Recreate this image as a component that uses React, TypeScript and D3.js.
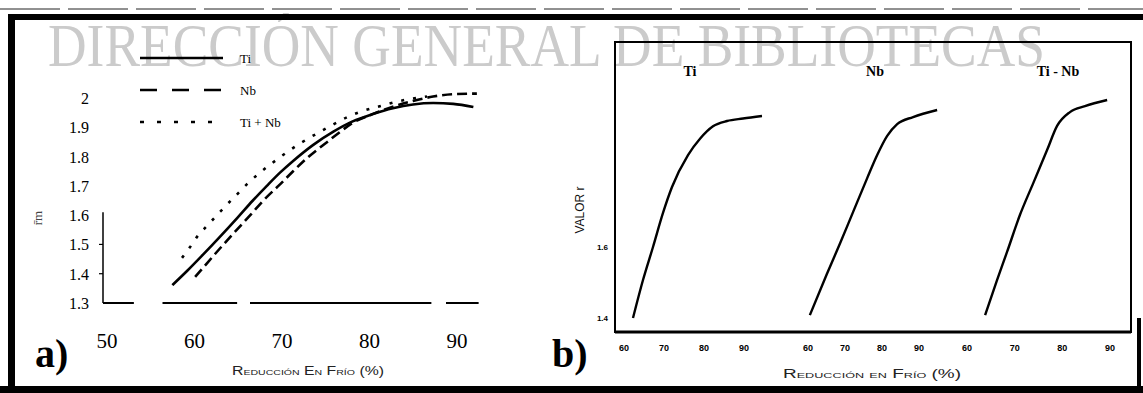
import * as d3 from "d3";

// panel a) — r̄ against cold reduction (%), three steels
const aSeries = ["Ti", "Nb", "Ti + Nb"];
const aTiX = [57.7, 59.4, 61.2, 63.1, 65.1, 66.9, 68.5, 70.0, 71.5, 73.8, 76.1, 78.3, 80.6, 82.9, 85.2, 87.5, 89.8, 92.1];
const aTiR = [1.361, 1.41, 1.465, 1.525, 1.59, 1.65, 1.7, 1.745, 1.785, 1.84, 1.885, 1.92, 1.945, 1.965, 1.978, 1.983, 1.98, 1.969];
const aNbX = [60.3, 61.2, 62.8, 64.6, 66.6, 68.1, 70.0, 71.5, 73.1, 75.4, 76.9, 78.3, 80.6, 82.9, 85.2, 87.5, 89.8, 92.5];
const aNbR = [1.389, 1.42, 1.475, 1.535, 1.6, 1.65, 1.705, 1.75, 1.795, 1.85, 1.885, 1.915, 1.945, 1.97, 1.99, 2.005, 2.013, 2.015];
const aTiNbX = [58.8, 59.7, 60.5, 61.7, 62.8, 63.9, 64.9, 66.2, 67.7, 69.2, 70.8, 72.3, 74.6, 76.1, 77.7, 79.1, 81.4, 83.7, 85.2, 86.8];
const aTiNbR = [1.454, 1.49, 1.525, 1.565, 1.6, 1.635, 1.665, 1.705, 1.745, 1.78, 1.815, 1.845, 1.885, 1.91, 1.935, 1.952, 1.972, 1.99, 1.998, 2.005];
const aXTicks = [50, 60, 70, 80, 90];
const aYTicks = [1.3, 1.4, 1.5, 1.6, 1.7, 1.8, 1.9, 2.0];
const aYTickLabels = ["1.3", "1.4", "1.5", "1.6", "1.7", "1.8", "1.9", "2"];

// panel b) — valor r, one sub-plot per steel
const bTitles = ["Ti", "Nb", "Ti - Nb"];
const bTiX = [62.25, 64.75, 67.25, 69.75, 72, 76, 79, 82.25, 85.75, 89.75, 94.5];
const bTiR = [1.4, 1.507, 1.6, 1.696, 1.769, 1.859, 1.905, 1.94, 1.955, 1.962, 1.969];
const bNbX = [60.5, 65.1, 68.7, 72.2, 76.0, 78.7, 81.4, 84.1, 88.4, 94.9];
const bNbR = [1.408, 1.524, 1.611, 1.699, 1.794, 1.859, 1.913, 1.946, 1.966, 1.986];
const bTiNbX = [63.8, 66.3, 68.4, 71.1, 73.9, 76.8, 78.9, 81.6, 84.75, 89.4];
const bTiNbR = [1.408, 1.507, 1.586, 1.69, 1.78, 1.873, 1.941, 1.98, 1.997, 2.014];
const bXTicks = [60, 70, 80, 90];
const bYTicks = [1.4, 1.6];

const W = 1143;
const H = 393;
const SERIF = "'Liberation Serif', 'DejaVu Serif', serif";
const SANS = "'Liberation Sans', 'DejaVu Sans', sans-serif";

const zip = (xs: number[], ys: number[]) => xs.map((x, i) => [x, ys[i]] as [number, number]);

export default function App() {
  // a) scales
  const xA = d3.scaleLinear().domain([50, 90]).range([105, 455]);
  const yA = d3.scaleLinear().domain([1.3, 2.0]).range([303, 98]);
  const lineA = d3.line<[number, number]>()
    .x(d => xA(d[0]))
    .y(d => yA(d[1]))
    .curve(d3.curveMonotoneX);

  const aCurves = [
    { name: aSeries[0], pts: zip(aTiX, aTiR), dash: undefined as string | undefined, legendDash: undefined as string | undefined },
    { name: aSeries[1], pts: zip(aNbX, aNbR), dash: "10,5", legendDash: "17,15" },
    { name: aSeries[2], pts: zip(aTiNbX, aTiNbR), dash: "3,9", legendDash: "4,13" },
  ];

  // b) scales, one x scale per sub-plot
  const bRanges: [number, number][] = [[624, 744], [808, 919], [967, 1110]];
  const xB = bRanges.map(r => d3.scaleLinear().domain([60, 90]).range(r));
  const yB = d3.scaleLinear().domain([1.4, 1.6]).range([318, 247]);
  const bData = [zip(bTiX, bTiR), zip(bNbX, bNbR), zip(bTiNbX, bTiNbR)];
  const bTitleX = [690, 875, 1058];

  const frame = { x0: 615, x1: 1131, y0: 42, y1: 332 };

  return (
    <svg width={W} height={H} style={{ position: "absolute", left: 0, top: 0, background: "#fff" }}>
      <rect x={0} y={0} width={W} height={H} fill="#fff" />

      {/* watermark */}
      <text x={48} y={66} fontFamily={SERIF} fontSize={61} fill="#cbcbcb"
        textLength={997} lengthAdjust="spacingAndGlyphs">
        DIRECCIÓN GENERAL DE BIBLIOTECAS
      </text>

      {/* scanned page border */}
      <line x1={0} y1={9} x2={W} y2={9} stroke="#222" strokeWidth={1} strokeDasharray="60,8" />
      <rect x={8} y={14} width={W - 8} height={6} fill="#000" />
      <rect x={8} y={14} width={7} height={H - 14} fill="#000" />
      <rect x={0} y={386} width={W} height={7} fill="#000" />
      <rect x={1137} y={318} width={4} height={70} fill="#000" />

      {/* ---------- a) ---------- */}
      <line x1={xA(50) - 2} x2={xA(50) - 2} y1={yA(1.3)} y2={yA(1.61)} stroke="#000" strokeWidth={1.5} />
      {[1.4, 1.5].map(t => (
        <line key={t} x1={xA(50) - 6} x2={xA(50) - 2} y1={yA(t)} y2={yA(t)} stroke="#000" strokeWidth={1.2} />
      ))}
      {[[50, 53.3], [56.8, 65.1], [66.8, 87.3], [89.2, 92.7]].map(([a, b], i) => (
        <line key={i} x1={xA(a) - 2} x2={xA(b)} y1={yA(1.3)} y2={yA(1.3)} stroke="#000" strokeWidth={2} />
      ))}
      {aYTicks.map((t, i) => (
        <text key={t} x={89} y={yA(t) + 6} textAnchor="end" fontFamily={SERIF} fontSize={16} fill="#000">
          {aYTickLabels[i]}
        </text>
      ))}
      {aXTicks.map(t => (
        <text key={t} x={xA(t) + 2} y={348} textAnchor="middle" fontFamily={SERIF} fontSize={21} fill="#000">
          {t}
        </text>
      ))}
      <text x={308} y={375} textAnchor="middle" fontFamily={SANS} fontSize={12} fill="#222"
        style={{ fontVariant: "small-caps" }} textLength={152} lengthAdjust="spacingAndGlyphs">
        Reducción En Frío (%)
      </text>
      <text transform="translate(42,218) rotate(-90)" textAnchor="middle" fontFamily={SERIF} fontSize={13} fill="#444">
        r̄m
      </text>
      <text x={35} y={367} fontFamily={SERIF} fontSize={40} fontWeight="bold" fill="#000">a)</text>

      {aCurves.map(c => (
        <path key={c.name} d={lineA(c.pts) ?? ""} fill="none" stroke="#000" strokeWidth={2.6}
          strokeDasharray={c.dash} />
      ))}

      {/* legend */}
      {aCurves.map((c, i) => (
        <g key={c.name} transform={`translate(140,${58 + i * 32})`}>
          <line x1={0} x2={83} y1={0} y2={0} stroke="#000" strokeWidth={2.6} strokeDasharray={c.legendDash} />
          <text x={100} y={5} fontFamily={SERIF} fontSize={13} fill="#000">{c.name}</text>
        </g>
      ))}

      {/* ---------- b) ---------- */}
      <rect x={frame.x0} y={frame.y0} width={frame.x1 - frame.x0} height={frame.y1 - frame.y0}
        fill="none" stroke="#000" strokeWidth={2} />
      <line x1={frame.x0} x2={frame.x1} y1={frame.y1} y2={frame.y1} stroke="#000" strokeWidth={3} />
      {bYTicks.map(t => (
        <text key={t} x={608} y={yB(t) + 3} textAnchor="end" fontFamily={SANS} fontSize={8} fontWeight="bold" fill="#000">
          {t.toFixed(1)}
        </text>
      ))}
      {xB.map((sx, g) => (
        <g key={g}>
          {bXTicks.map(t => (
            <text key={t} x={sx(t)} y={351} textAnchor="middle" fontFamily={SANS} fontSize={9} fontWeight="bold" fill="#000">
              {t}
            </text>
          ))}
          <path d={d3.line<[number, number]>().x(d => sx(d[0])).y(d => yB(d[1])).curve(d3.curveMonotoneX)(bData[g]) ?? ""}
            fill="none" stroke="#000" strokeWidth={2.4} />
          <text x={bTitleX[g]} y={76} textAnchor="middle" fontFamily={SERIF} fontSize={14} fontWeight="bold" fill="#000">
            {bTitles[g]}
          </text>
        </g>
      ))}
      <text transform="translate(584,210) rotate(-90)" textAnchor="middle" fontFamily={SANS} fontSize={12} fill="#111">
        VALOR r
      </text>
      <text x={872} y={378} textAnchor="middle" fontFamily={SANS} fontSize={12} fill="#222"
        style={{ fontVariant: "small-caps" }} textLength={178} lengthAdjust="spacingAndGlyphs">
        Reducción en Frío (%)
      </text>
      <text x={552} y={367} fontFamily={SERIF} fontSize={40} fontWeight="bold" fill="#000">b)</text>
    </svg>
  );
}
